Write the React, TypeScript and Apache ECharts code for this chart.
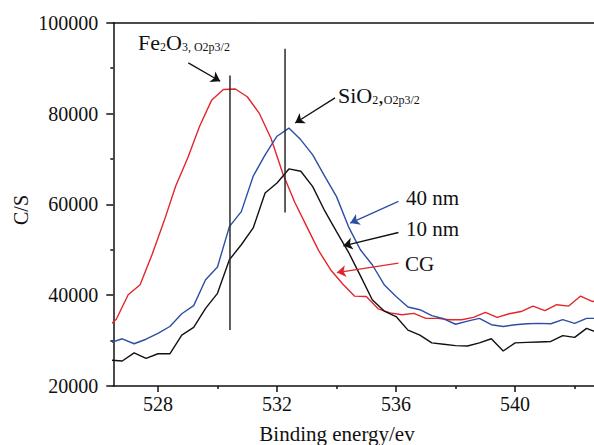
import React, { useEffect, useRef } from "react";
import * as echarts from "echarts";

// Binding energies (eV) sampled for the 10 nm and 40 nm spectra
const energiesA = [
  526.4, 526.8, 527.2, 527.6, 528.0, 528.4, 528.8, 529.2, 529.6, 530.0, 530.4, 530.8, 531.2, 531.6,
  532.0, 532.4, 532.8, 533.2, 533.6, 534.0, 534.4, 534.8, 535.2, 535.6, 536.0, 536.4, 536.8, 537.2,
  537.6, 538.0, 538.4, 538.8, 539.2, 539.6, 540.0, 540.4, 540.8, 541.2, 541.6, 542.0, 542.4, 542.8,
];
// Binding energies (eV) sampled for the CG spectrum
const energiesB = [
  526.2, 526.6, 527.0, 527.4, 527.8, 528.2, 528.6, 529.0, 529.4, 529.8, 530.2, 530.6, 531.0, 531.4,
  531.8, 532.2, 532.6, 533.0, 533.4, 533.8, 534.2, 534.6, 535.0, 535.4, 535.8, 536.2, 536.6, 537.0,
  537.4, 537.8, 538.2, 538.6, 539.0, 539.4, 539.8, 540.2, 540.6, 541.0, 541.4, 541.8, 542.2, 542.6,
  543.0,
];
const cgCounts = [
  32300, 34700, 40100, 42300, 48900, 56200, 64100, 70200, 77200, 82900, 85300, 85400, 83700, 80100,
  74500, 66700, 60400, 55100, 49800, 45600, 42500, 39800, 39700, 37000, 36100, 35700, 36000, 34900,
  34900, 34600, 34600, 35100, 36200, 35100, 35900, 36400, 37600, 36600, 37900, 37600, 39800, 38600,
  39000,
];
const nm40Counts = [
  29500, 30400, 29300, 30300, 31600, 33100, 35900, 37700, 43400, 46200, 55100, 58400, 66200, 70900,
  75000, 76800, 74200, 70900, 66200, 61700, 55100, 50000, 46700, 42300, 39700, 37400, 36800, 35500,
  34800, 33600, 34300, 34900, 33500, 33100, 33500, 33700, 33800, 33700, 34600, 33800, 34900, 34900,
];
const nm10Counts = [
  25700, 25500, 27300, 26100, 27100, 27100, 31200, 32900, 37100, 40400, 47800, 51100, 54800, 62500,
  64700, 67800, 67300, 63900, 58600, 54000, 49500, 44300, 39000, 36500, 35300, 32300, 31200, 29500,
  29200, 28900, 28800, 29500, 30400, 27700, 29500, 29600, 29700, 29800, 31100, 30700, 32700, 31700,
];

// Axis ticks
const majorTicks = [528, 532, 536, 540];
const minorTicksX = [530, 534, 538, 542];

// Peak reference lines: [energy, lowCount, highCount]
const fe2o3Line = [530.42, 32350, 88350];
const sio2Line = [532.27, 58200, 94250];

// Annotation arrows in data units: from [x, y] to [x, y]
const arrowFe = [[529.02, 91150], [530.09, 87100]];
const arrowSi = [[533.95, 83440], [532.61, 77920]];
const arrow40 = [[536.08, 60640], [534.46, 55880]];
const arrow10 = [[536.08, 53800], [534.23, 50870]];
const arrowCG = [[536.08, 47060], [534.01, 44980]];

const RED = "#e2262b";
const BLUE = "#2c4fa3";
const BLACK = "#111111";
const SERIF = "Liberation Serif";

export default function App() {
  const ref = useRef<HTMLDivElement>(null);

  useEffect(() => {
    if (!ref.current) return;
    const chart = echarts.init(ref.current, null, { renderer: "svg" });
    const zip = (xs: number[], ys: number[]) => xs.map((x, i) => [x, ys[i]]);
    const arrow = (pts: number[][], color: string) => ({
      silent: true,
      animation: false,
      symbol: ["none", "arrow"],
      symbolSize: 9,
      label: { show: false },
      emphasis: { disabled: true },
      lineStyle: { color, width: 1.3, type: "solid" },
      data: [[{ coord: pts[0] }, { coord: pts[1] }]],
    });
    const arrow2 = (a: number[][], b: number[][], color: string) => ({
      ...arrow(a, color),
      data: [
        [{ coord: a[0] }, { coord: a[1] }],
        [{ coord: b[0] }, { coord: b[1] }],
      ],
    });

    const mainRich = {
      m: { fontSize: 22, lineHeight: 22, fontFamily: SERIF, fill: BLACK, color: BLACK },
      s: {
        fontSize: 12,
        lineHeight: 12,
        fontFamily: SERIF,
        fill: BLACK,
        color: BLACK,
        verticalAlign: "bottom",
      },
    };

    const plainText = (text: string, x: number, y: number, size: number, align = "left") => ({
      type: "text",
      x,
      y,
      style: {
        text,
        font: `${size}px "${SERIF}"`,
        fill: BLACK,
        align,
        verticalAlign: "middle",
        textAlign: align,
        textVerticalAlign: "middle",
      },
    });

    const option: any = {
      animation: false,
      backgroundColor: "#ffffff",
      grid: { left: 113.3, top: 22.7, right: 0, bottom: 59, containLabel: false },
      xAxis: [
        {
          type: "value",
          position: "bottom",
          min: 526.5,
          max: 542.65,
          axisLine: { show: true, onZero: false, lineStyle: { color: BLACK, width: 1.5 } },
          axisTick: {
            show: true,
            customValues: majorTicks,
            length: 6,
            lineStyle: { color: BLACK, width: 1.5 },
          },
          axisLabel: {
            show: true,
            customValues: majorTicks,
            fontSize: 20,
            fontFamily: SERIF,
            color: BLACK,
            margin: 8,
          },
          splitLine: { show: false },
        },
        {
          type: "value",
          position: "bottom",
          min: 526.5,
          max: 542.65,
          axisLine: { show: false, onZero: false },
          axisTick: {
            show: true,
            customValues: minorTicksX,
            length: 3,
            lineStyle: { color: BLACK, width: 1.5 },
          },
          axisLabel: { show: false },
          splitLine: { show: false },
        },
        {
          type: "value",
          position: "top",
          min: 526.5,
          max: 542.65,
          axisLine: { show: true, onZero: false, lineStyle: { color: BLACK, width: 1.5 } },
          axisTick: { show: false },
          axisLabel: { show: false },
          splitLine: { show: false },
        },
      ],
      yAxis: {
        type: "value",
        min: 20000,
        max: 100000,
        interval: 20000,
        axisLine: { show: true, onZero: false, lineStyle: { color: BLACK, width: 1.5 } },
        axisTick: { show: true, length: 7, lineStyle: { color: BLACK, width: 1.5 } },
        minorTick: { show: true, splitNumber: 2, length: 3, lineStyle: { color: BLACK, width: 1.5 } },
        axisLabel: {
          fontSize: 20,
          fontFamily: SERIF,
          color: BLACK,
          margin: 15,
          formatter: (v: number) => String(v),
        },
        splitLine: { show: false },
      },
      series: [
        {
          name: "CG",
          type: "line",
          data: zip(energiesB, cgCounts),
          showSymbol: false,
          symbol: "none",
          lineStyle: { color: RED, width: 1.4 },
          itemStyle: { color: RED },
          markLine: arrow(arrowCG, RED),
        },
        {
          name: "10 nm",
          type: "line",
          data: zip(energiesA, nm10Counts),
          showSymbol: false,
          symbol: "none",
          lineStyle: { color: BLACK, width: 1.4 },
          itemStyle: { color: BLACK },
          markLine: arrow(arrow10, BLACK),
        },
        {
          name: "40 nm",
          type: "line",
          data: zip(energiesA, nm40Counts),
          showSymbol: false,
          symbol: "none",
          lineStyle: { color: BLUE, width: 1.4 },
          itemStyle: { color: BLUE },
          markLine: arrow(arrow40, BLUE),
        },
        {
          name: "Fe2O3 O2p3/2",
          type: "line",
          data: [
            [fe2o3Line[0], fe2o3Line[1]],
            [fe2o3Line[0], fe2o3Line[2]],
          ],
          showSymbol: false,
          symbol: "none",
          lineStyle: { color: "#2a2a2a", width: 1.5 },
          markLine: arrow2(arrowFe, arrowSi, BLACK),
        },
        {
          name: "SiO2 O2p3/2",
          type: "line",
          data: [
            [sio2Line[0], sio2Line[1]],
            [sio2Line[0], sio2Line[2]],
          ],
          showSymbol: false,
          symbol: "none",
          lineStyle: { color: "#2a2a2a", width: 1.5 },
        },
      ],
      graphic: [
        {
          type: "text",
          x: 138,
          y: 42,
          style: {
            text: "{m|Fe}{s|2}{m|O}{s|3}{s|, O2p3/2}",
            rich: mainRich,
            align: "left",
            verticalAlign: "middle",
            textAlign: "left",
            textVerticalAlign: "middle",
          },
        },
        {
          type: "text",
          x: 338,
          y: 95.3,
          style: {
            text: "{m|SiO}{s|2}{m|,}{s|O2p3/2}",
            rich: mainRich,
            align: "left",
            verticalAlign: "middle",
            textAlign: "left",
            textVerticalAlign: "middle",
          },
        },
        plainText("40 nm", 406, 198, 21),
        plainText("10 nm", 406, 228.5, 21),
        plainText("CG", 405, 264, 21),
        plainText("Binding energy/ev", 337, 434, 21, "center"),
        {
          type: "text",
          x: 21,
          y: 210,
          rotation: Math.PI / 2,
          style: {
            text: "C/S",
            font: `20px "${SERIF}"`,
            fill: BLACK,
            align: "center",
            verticalAlign: "middle",
            textAlign: "center",
            textVerticalAlign: "middle",
          },
        },
      ],
    };

    chart.setOption(option);
    return () => chart.dispose();
  }, []);

  return (
    <div
      ref={ref}
      style={{ position: "fixed", left: 0, top: 0, width: 594, height: 445, background: "#fff" }}
    />
  );
}
